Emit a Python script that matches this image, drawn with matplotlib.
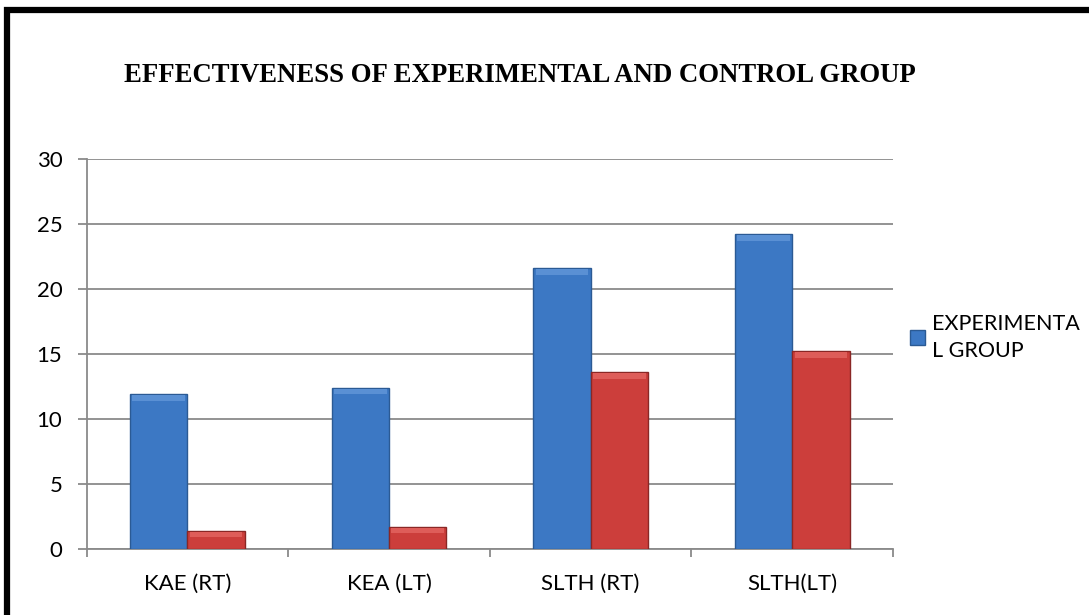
import matplotlib.pyplot as plt
import matplotlib.patches as mpatches
import numpy as np

categories = ['KAE (RT)', 'KEA (LT)', 'SLTH (RT)', 'SLTH(LT)']
experimental = [11.9, 12.4, 21.6, 24.2]
control = [1.4, 1.7, 13.6, 15.2]

plt.rcParams['font.family'] = ['Lato', 'DejaVu Sans']

fig = plt.figure(figsize=(10.89, 6.15), dpi=100)
ax = fig.add_axes([0.0795, 0.1073, 0.7405, 0.6342])

# black frame around the chart (runs off right and bottom)
frame = mpatches.Rectangle((0.0065, -0.05), 1.1, 1.034, transform=fig.transFigure,
                           fill=False, edgecolor='black', lw=4.5, zorder=10)
fig.patches.append(frame)

x = np.arange(len(categories))
w = 0.285
b1 = ax.bar(x - w / 2, experimental, w, color='#3c78c4', edgecolor='#2b5a94', lw=1.0, zorder=3,
            label='EXPERIMENTA\nL GROUP')
b2 = ax.bar(x + w / 2, control, w, color='#cc3e3b', edgecolor='#8a2725', lw=1.0, zorder=3)

# soft bevel highlight on top of each bar
for rect in list(b1) + list(b2):
    bx, by = rect.get_x(), rect.get_height()
    light = '#5a90d4' if rect in b1 else '#de5d59'
    ax.add_patch(mpatches.Rectangle((bx + 0.012, by - 0.5), rect.get_width() - 0.024, 0.42,
                                    color=light, lw=0, zorder=4))

ax.set_xlim(-0.5, 3.5)
ax.set_ylim(0, 30)
ax.set_yticks(range(0, 31, 5))
ax.yaxis.grid(True, color='#8a8a8a', lw=1.3, zorder=0)
ax.set_axisbelow(True)

ax.set_xticks(x)
ax.set_xticklabels(categories, fontsize=16)
ax.set_xticks(np.arange(-0.5, 4, 1), minor=True)
ax.tick_params(axis='x', which='major', length=0, pad=18)
ax.tick_params(axis='x', which='minor', length=6, color='#8a8a8a', width=1.3)
ax.tick_params(axis='y', length=6.5, color='#8a8a8a', width=1.3, labelsize=16, pad=11)

for s in ['top', 'right']:
    ax.spines[s].set_visible(False)
for s in ['left', 'bottom']:
    ax.spines[s].set_color('#8a8a8a')
    ax.spines[s].set_linewidth(1.3)

fig.text(0.477, 0.878, 'EFFECTIVENESS OF EXPERIMENTAL AND CONTROL GROUP',
         ha='center', va='center', fontsize=19.3, fontweight='bold', family='Liberation Serif')

leg = ax.legend(handles=[b1], loc='center left', bbox_to_anchor=(1.0, 0.543), frameon=False,
                fontsize=15.5, handlelength=0.7, handleheight=0.7, handletextpad=0.3,
                borderaxespad=0.4)
for t in leg.get_texts():
    t.set_linespacing(1.45)

fig.savefig('out.png', dpi=100)
